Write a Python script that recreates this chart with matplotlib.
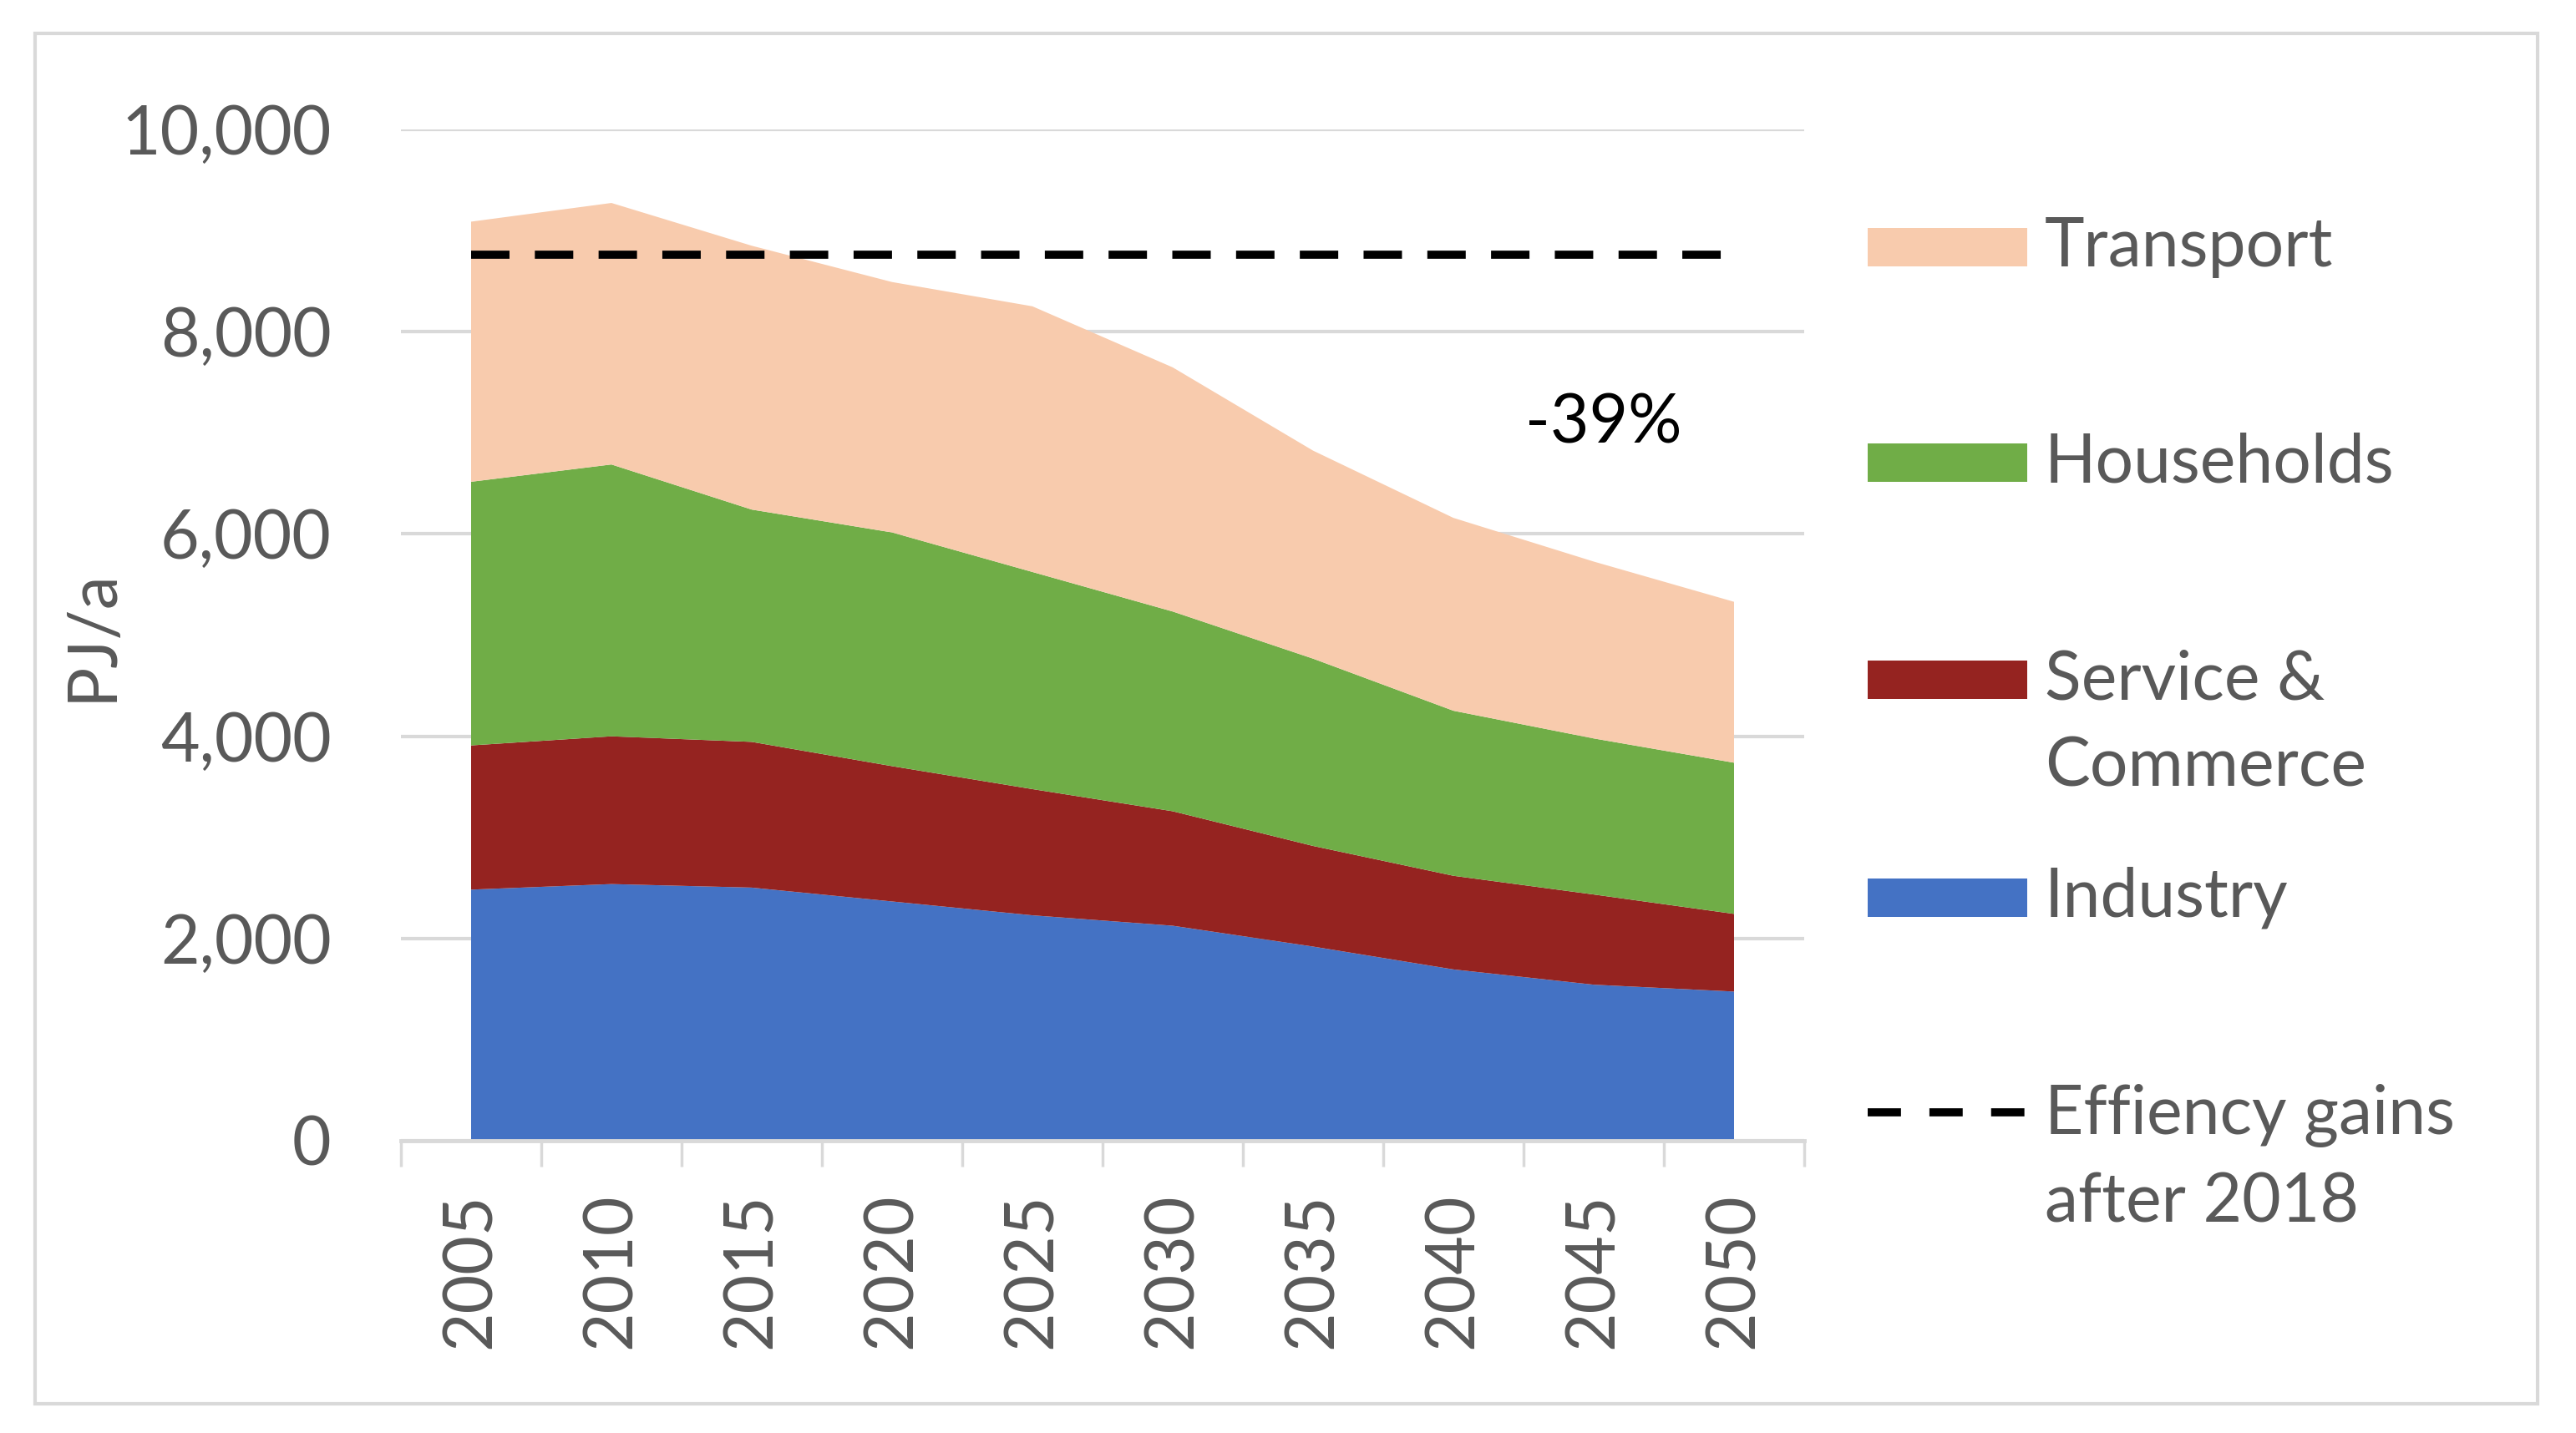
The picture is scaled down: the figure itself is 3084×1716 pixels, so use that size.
import matplotlib as mpl
mpl.use("Agg")
import matplotlib.pyplot as plt
from matplotlib.patches import Rectangle
from matplotlib.lines import Line2D
import numpy as np

# --- data (PJ/a) ---------------------------------------------------------
years = ["2005", "2010", "2015", "2020", "2025", "2030", "2035", "2040", "2045", "2050"]
industry = [2483, 2538, 2503, 2366, 2229, 2126, 1920, 1694, 1543, 1475]
service = [1426, 1461, 1441, 1338, 1248, 1132, 995, 926, 892, 768]
households = [2607, 2688, 2297, 2311, 2147, 1975, 1852, 1632, 1543, 1495]
transport = [2572, 2586, 2609, 2476, 2627, 2414, 2057, 1907, 1749, 1591]
efficiency_level = 8758
reduction_label = "-39%"

colors = ["#4472C4", "#952320", "#70AD47", "#F8CBAD"]

GRAY = "#595959"
GRID = "#D9D9D9"
FS = 58

plt.rcParams.update({"font.family": ["Lato", "DejaVu Sans"], "font.size": FS})

W, H = 3084, 1716
fig = plt.figure(figsize=(W / 100, H / 100), dpi=100)
ax = fig.add_axes([480 / W, 1 - 1366 / H, 1680 / W, (1366 - 155) / H])

x = np.arange(len(years))
ax.stackplot(x, industry, service, households, transport, colors=colors,
             linewidth=0)
ax.plot([x[0], x[-1]], [efficiency_level, efficiency_level], color="black",
        lw=7, dashes=(4.73, 3.12), dash_capstyle="butt")
ax.text(8.07, 7090, reduction_label, ha="center", va="center", color="black",
        fontsize=FS)

ax.set_xlim(-0.5, len(years) - 0.5)
ax.set_ylim(0, 10000)
ax.set_yticks(np.arange(0, 10001, 2000))
ax.set_yticklabels([f"{v:,}" for v in range(0, 10001, 2000)])
ax.yaxis.grid(True, color=GRID, lw=3)
ax.set_axisbelow(True)
ax.tick_params(axis="y", length=0, pad=60, colors=GRAY, labelsize=FS)

ax.set_xticks(x)
ax.set_xticklabels(years, rotation=90)
ax.set_xticks(np.arange(-0.5, len(years)), minor=True)
ax.tick_params(axis="x", which="major", length=0, pad=45, colors=GRAY,
               labelsize=FS)
ax.tick_params(axis="x", which="minor", length=22, width=2.5, color=GRID)
for s in ["left", "right", "top"]:
    ax.spines[s].set_visible(False)
ax.spines["bottom"].set_color(GRID)
ax.spines["bottom"].set_linewidth(3.5)

ax.set_ylabel("PJ/a", color=GRAY, fontsize=FS)
ax.yaxis.set_label_coords(-0.198, 0.5)

# --- legend, drawn by hand to keep Excel's spacing ------------------------
px, pw, ph = 2236, 191, 46
tx = 2448
legend_rows = [(296, "Transport", colors[3]),
               (554, "Households", colors[2]),
               (814, "Service &\nCommerce", colors[1]),
               (1075, "Industry", colors[0])]
for yc, label, c in legend_rows:
    fig.add_artist(Rectangle((px / W, 1 - (yc + ph / 2) / H), pw / W, ph / H,
                             transform=fig.transFigure, color=c, lw=0))
    for i, line in enumerate(label.split("\n")):
        fig.text(tx / W, 1 - (yc + i * 104) / H, line, ha="left", va="center",
                 color=GRAY, fontsize=FS)
fig.add_artist(Line2D([px / W, (px + pw) / W], [1 - 1332 / H, 1 - 1332 / H],
                      transform=fig.transFigure, color="black", lw=7,
                      dashes=(4.1, 3.5), dash_capstyle="butt"))
for i, line in enumerate(["Effiency gains", "after 2018"]):
    fig.text(tx / W, 1 - (1336 + i * 104) / H, line, ha="left", va="center",
             color=GRAY, fontsize=FS)

# outer frame
fig.add_artist(Rectangle((42 / W, 1 - 1681 / H), (3038 - 42) / W, (1681 - 40) / H,
                         transform=fig.transFigure, fill=False,
                         edgecolor=GRID, lw=3))

fig.savefig("out.png", dpi=100)
